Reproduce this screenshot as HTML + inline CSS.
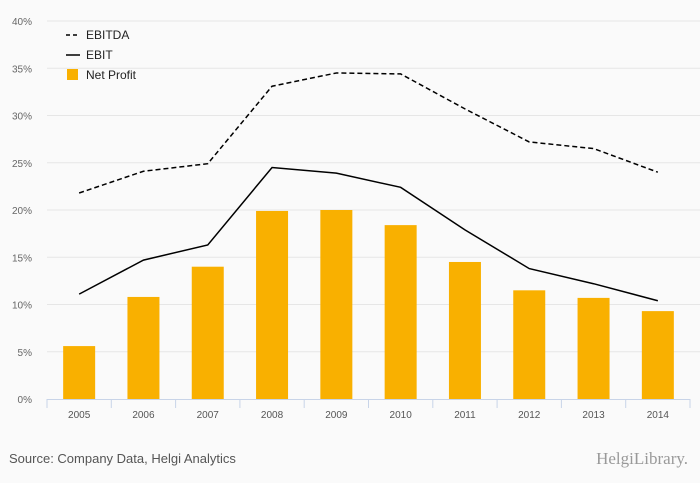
<!DOCTYPE html>
<html><head><meta charset="utf-8"><style>
body{margin:0;background:#fafafa;font-family:"Liberation Sans",sans-serif;}
svg{display:block}
</style></head><body>
<svg id="chart" width="700" height="483">
<rect width="700" height="483" fill="#fafafa"/>
<g id="grid"></g><g id="bars"></g><g id="lines"></g><g id="axis"></g>
<g font-size="12" fill="#222">
<line x1="66" y1="35" x2="80" y2="35" stroke="#000" stroke-width="1.5" stroke-dasharray="4,3"/>
<text x="86" y="39">EBITDA</text>
<line x1="66" y1="55" x2="80" y2="55" stroke="#000" stroke-width="1.5"/>
<text x="86" y="59">EBIT</text>
<rect x="67" y="69" width="11" height="11" fill="#f9b000"/>
<text x="86" y="79">Net Profit</text>
</g>
<text x="9" y="463" font-size="13" fill="#555">Source: Company Data, Helgi Analytics</text>
<text x="688" y="464" font-size="17" fill="#999" text-anchor="end" font-family="Liberation Serif,serif">HelgiLibrary.</text>
</svg>
<script>
const categories=["2005","2006","2007","2008","2009","2010","2011","2012","2013","2014"];
const ebitda=[21.8,24.1,24.9,33.1,34.5,34.4,30.7,27.2,26.5,24.0];
const ebit=[11.1,14.7,16.3,24.5,23.9,22.4,17.9,13.8,12.2,10.4];
const netProfit=[5.6,10.8,14.0,19.9,20.0,18.4,14.5,11.5,10.7,9.3];
const yTicks=[0,5,10,15,20,25,30,35,40];
const NS="http://www.w3.org/2000/svg";
const x0=47,x1=690,yBase=399,yTop=21,yMax=40;
const bw=(x1-x0)/categories.length;
const xc=i=>x0+bw*(i+0.5);
const y=v=>yBase-(v/yMax)*(yBase-yTop);
function mk(t,a,p){const e=document.createElementNS(NS,t);for(const k in a)e.setAttribute(k,a[k]);p.appendChild(e);return e;}
const grid=document.getElementById('grid'),bars=document.getElementById('bars'),lines=document.getElementById('lines'),axis=document.getElementById('axis');
yTicks.forEach(t=>{
 if(t>0){const l=mk('line',{x1:x0,x2:700,y1:y(t),y2:y(t),stroke:'#e6e6e6'},grid);
 
 }
 const tx=mk('text',{x:32,y:y(t)+4,'font-size':10,fill:'#666','text-anchor':'end'},axis);tx.textContent=t+'%';
 
 
});
const al=mk('line',{x1:x0,x2:x1,y1:yBase+0.5,y2:yBase+0.5,stroke:'#c8d4e8'},axis);


for(let i=0;i<=categories.length;i++){const tk=mk('line',{x1:x0+bw*i,x2:x0+bw*i,y1:yBase,y2:yBase+9,stroke:'#c8d4e8'},axis);
 
 }
categories.forEach((c,i)=>{
 const tx=mk('text',{x:xc(i),y:yBase+19,'font-size':10,fill:'#555','text-anchor':'middle'},axis);tx.textContent=c;
 
 
 const b=mk('rect',{x:xc(i)-16,y:y(netProfit[i]),width:32,height:yBase-y(netProfit[i]),fill:'#f9b000'},bars);
 
 
});
const pts=a=>a.map((v,i)=>xc(i)+','+y(v)).join(' ');
const p1=mk('polyline',{points:pts(ebitda),fill:'none',stroke:'#000','stroke-width':1.5,'stroke-dasharray':'5,3'},lines);


const p2=mk('polyline',{points:pts(ebit),fill:'none',stroke:'#000','stroke-width':1.5},lines);


</script>
</body></html>
